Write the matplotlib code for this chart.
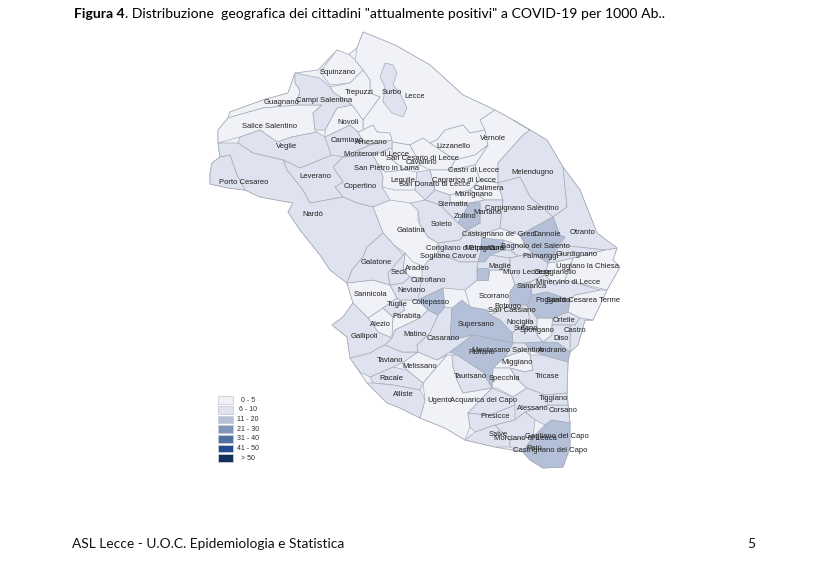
import matplotlib
matplotlib.use('Agg')
import matplotlib.pyplot as plt
from matplotlib.patches import Polygon, Rectangle

# classe di ogni comune: 0 = 0-5, 1 = 6-10, 2 = 11-20
comuni_0 = ['Lecce', 'Squinzano', 'Trepuzzi', 'Novoli', 'Guagnano', 'Salice Salentino', 'Arnesano',
            'Galatina', 'Lizzanello', 'Vernole', 'Cavallino', 'San Cesario di Lecce', 'San Pietro in Lama',
            'Lequile', 'Caprarica di Lecce', 'Castri di Lecce', 'Calimera', 'Martignano',
            "Castrignano de' Greci", 'Scorrano', 'Giuggianello', 'Uggiano la Chiesa', 'Santa Cesarea Terme',
            'Spongano', 'Miggiano', 'Specchia', 'Ugento', 'Melissano', 'Alezio', 'Sannicola', 'Aradeo', 'Parabita',
            'San Cassiano']
comuni_1 = ['Surbo', 'Campi Salentina', 'Veglie', 'Carmiano', 'Monteroni di Lecce', 'Copertino', 'Leverano',
            'Nardò', 'Porto Cesareo', 'Galatone', 'San Donato di Lecce', 'Sternatia', 'Soleto', 'Martano',
            'Melendugno', 'Carpignano Salentino', 'Otranto', "Corigliano d'Otranto", 'Cursi', 'Bagnolo del Salento',
            'Giurdignano', 'Maglie', 'Cutrofiano', 'Muro Leccese', 'Minervino di Lecce', 'Ortelle', 'Castro', 'Diso',
            'Nociglia', 'Surano', 'Tricase', 'Taurisano', 'Alessano', 'Corsano', 'Presicce', 'Salve',
            'Racale', 'Alliste', 'Taviano', 'Gallipoli', 'Seclì', 'Neviano', 'Tuglie', 'Matino', 'Casarano',
            'Montesano Salentino', 'Acquarica del Capo', 'Tiggiano', 'Morciano di Leuca', 'Patù']
comuni_2 = ['Zollino', 'Cannole', 'Melpignano', 'Sogliano Cavour', 'Sanarica', 'Poggiardo', 'Collepasso',
            'Supersano', 'Ruffano', 'Andrano', 'Gagliano del Capo']

classi_legenda = ['0 - 5', '6 - 10', '11 - 20', '21 - 30', '31 - 40', '41 - 50', '> 50']
colori_classi = ['#f0f2f8', '#dfe3ef', '#b4c0d7', '#7f95ba', '#51709f', '#1f4b8f', '#12315f']

titolo_a = 'Figura 4'
titolo_b = '. Distribuzione  geografica dei cittadini "attualmente positivi" a COVID-19 per 1000 Ab..'
piede = 'ASL Lecce - U.O.C. Epidemiologia e Statistica'

# contorno della provincia, in pixel del riferimento
provincia = [(357,48),(363,32),(395,45),(430,65),(463,95),(495,110),(513,120),(547,140),(563,167),(580,190),
             (597,233),(617,248),(613,260),(620,267),(607,290),(593,320),(585,320),(578,345),(570,352),(568,362),
             (567,393),(570,423),(570,448),(563,467),(543,468),(530,460),(523,452),(495,447),(465,440),(445,428),
             (420,418),(400,408),(387,403),(367,383),(350,358),(347,337),(332,325),(343,317),(353,303),(347,283),
             (330,270),(320,255),(300,230),(288,212),(293,203),(260,197),(245,190),(228,188),(210,184),(210,173),
             (212,163),(220,157),(218,143),(218,130),(228,118),(230,112),(263,100),(288,93),(295,73),(318,70),
             (337,50),(348,55)]

contorni = {
    'Lecce': [(357,48),(363,32),(395,45),(430,65),(463,95),(495,110),(480,120),(485,130),(470,133),(463,125),(445,130),
              (437,140),(430,143),(423,138),(410,145),(392,142),(390,133),(377,132),(373,125),(363,130),(363,120),
              (380,97),(370,93),(370,80),(363,70),(355,60)],
    'Surbo': [(385,63),(393,65),(397,73),(393,85),(400,93),(407,108),(403,117),(392,113),(383,102),(385,87),(380,77)],
    'Squinzano': [(320,72),(337,50),(350,55),(355,60),(363,70),(350,83),(330,85)],
    'Campi Salentina': [(295,73),(320,78),(330,87),(333,92),(352,105),(337,108),(325,130),(315,130),(313,113),(322,105),
                        (297,105),(300,90),(295,83)],
    'Trepuzzi': [(330,87),(350,83),(363,70),(370,80),(370,93),(380,97),(363,120),(352,105),(333,92)],
    'Novoli': [(337,108),(352,105),(363,120),(363,130),(358,132),(350,125),(325,137),(325,130)],
    'Guagnano': [(230,112),(263,100),(288,93),(295,73),(295,83),(300,90),(297,105),(263,108),(238,115),(228,118)],
    'Salice Salentino': [(218,130),(228,118),(238,115),(263,108),(297,105),(322,105),(313,113),(315,130),(317,132),(292,137),
                         (277,142),(260,130),(240,137),(218,143)],
    'Veglie': [(240,137),(260,130),(277,142),(292,137),(317,132),(325,137),(332,155),(300,168),(283,160),(253,153),(238,143)],
    'Carmiano': [(325,137),(350,125),(358,132),(363,142),(370,145),(343,157),(332,158)],
    'Arnesano': [(358,132),(363,130),(373,125),(377,132),(390,133),(392,140),(370,145),(363,142)],
    'Monteroni di Lecce': [(343,157),(370,145),(392,140),(392,148),(373,155)],
    'Copertino': [(343,157),(373,155),(377,163),(383,177),(382,187),(390,200),(373,207),(357,203),(343,197),(335,187),
                  (343,182),(333,167)],
    'Leverano': [(283,160),(300,168),(332,155),(343,157),(333,167),(343,182),(335,187),(343,197),(310,203),(303,190),(287,170)],
    'Nardò': [(218,143),(238,143),(253,153),(283,160),(287,170),(303,190),(310,203),(343,197),(357,203),(373,207),(383,233),
              (367,247),(363,257),(352,270),(347,283),(330,270),(320,255),(300,230),(288,212),(293,203),(260,197),(245,190),
              (237,175),(230,155),(220,157)],
    'Porto Cesareo': [(210,173),(212,163),(220,157),(230,155),(237,175),(245,190),(228,188),(210,184)],
    'Galatone': [(383,233),(367,247),(363,257),(352,270),(347,283),(373,280),(390,285),(388,273),(405,257),(394,245)],
    'Galatina': [(373,207),(390,200),(410,203),(418,210),(418,220),(420,225),(428,237),(438,243),(438,253),(427,262),
                 (422,270),(422,278),(410,277),(403,270),(405,253),(394,245),(383,233)],
    'Lizzanello': [(430,143),(437,140),(445,130),(463,125),(470,133),(485,130),(488,145),(475,155),(455,160),(440,150)],
    'Vernole': [(480,120),(495,110),(513,120),(530,130),(523,135),(498,163),(498,183),(480,180),(475,165),(488,145),(485,130)],
    'Cavallino': [(423,138),(430,143),(440,150),(455,160),(450,170),(430,170),(420,165),(410,145)],
    'San Cesario di Lecce': [(392,142),(410,145),(420,165),(405,170),(392,160),(392,148)],
    'San Pietro in Lama': [(373,155),(392,148),(392,160),(405,170),(385,172),(377,163)],
    'Lequile': [(377,163),(385,172),(405,170),(417,172),(415,190),(395,190),(382,187),(383,177)],
    'San Donato di Lecce': [(417,172),(430,170),(435,190),(425,200),(415,190)],
    'Caprarica di Lecce': [(430,170),(450,170),(475,165),(480,180),(470,190),(450,195),(435,190)],
    'Castri di Lecce': [(450,170),(455,160),(475,155),(488,145),(475,165)],
    'Calimera': [(470,190),(480,180),(498,183),(503,200),(485,200)],
    'Martignano': [(450,195),(470,190),(485,200),(470,203),(450,203)],
    'Sternatia': [(425,200),(435,190),(450,195),(450,203),(470,203),(458,223),(440,205)],
    'Zollino': [(470,203),(480,203),(480,223),(467,230),(458,223)],
    'Soleto': [(410,203),(425,200),(440,205),(458,223),(467,230),(460,240),(438,243),(428,237),(420,225),(418,210)],
    'Martano': [(470,203),(485,200),(503,200),(500,228),(480,235),(467,230),(480,223),(480,203)],
    'Melendugno': [(523,135),(530,130),(513,120),(547,140),(563,167),(567,207),(553,217),(530,197),(520,177),(498,183),(498,163)],
    'Carpignano Salentino': [(498,183),(520,177),(530,197),(553,217),(520,235),(500,228),(503,200)],
    'Cannole': [(553,217),(560,235),(565,237),(558,245),(548,263),(533,253),(527,248),(520,235)],
    'Otranto': [(563,167),(580,190),(597,233),(617,248),(605,250),(560,245),(565,237),(560,235),(553,217),(567,207)],
    "Castrignano de' Greci": [(480,235),(500,228),(520,235),(527,248),(503,240),(490,245)],
    "Corigliano d'Otranto": [(438,243),(460,240),(467,230),(480,235),(482,238),(480,255),(478,262),(460,262),(438,253)],
    'Melpignano': [(482,238),(503,240),(503,250),(490,255),(485,262),(478,262),(480,255)],
    'Cursi': [(503,250),(510,250),(518,256),(510,258),(490,255)],
    'Bagnolo del Salento': [(503,240),(527,248),(533,253),(518,256),(510,250),(503,250)],
    'Giurdignano': [(560,245),(605,250),(573,258),(555,262),(548,263)],
    'Maglie': [(478,262),(490,255),(510,258),(510,270),(490,270),(488,280),(477,280),(477,268)],
    'Sogliano Cavour': [(477,268),(488,268),(488,280),(477,280)],
    'Cutrofiano': [(438,253),(460,262),(478,262),(477,268),(477,280),(465,290),(443,288),(418,300),(410,280),(422,278),(422,270),(427,262)],
    'Scorrano': [(477,280),(488,280),(490,270),(510,270),(515,285),(510,292),(510,305),(490,315),(487,310),(470,307),(465,290)],
    'San Cassiano': [(490,315),(510,305),(512,318),(498,322)],
    'Muro Leccese': [(510,258),(533,253),(548,263),(545,275),(530,282),(515,285),(510,270)],
    'Giuggianello': [(548,263),(555,262),(573,258),(565,280),(555,285),(545,275)],
    'Uggiano la Chiesa': [(573,258),(605,250),(617,248),(613,260),(620,267),(607,290),(565,280)],
    'Sanarica': [(510,292),(515,285),(530,282),(532,295),(527,305),(510,305)],
    'Minervino di Lecce': [(530,282),(545,275),(555,285),(565,280),(600,290),(575,295),(570,300),(547,292),(532,295)],
    'Santa Cesarea Terme': [(575,295),(600,290),(607,290),(593,320),(585,320),(580,318),(568,312),(570,300)],
    'Poggiardo': [(532,295),(547,292),(570,300),(568,312),(553,318),(537,318),(527,305)],
    'Spongano': [(537,318),(553,318),(552,325),(552,335),(543,342),(537,335)],
    'Ortelle': [(553,318),(568,312),(580,318),(575,325),(552,325)],
    'Castro': [(575,325),(580,318),(593,320),(585,320),(578,345),(570,352),(570,325)],
    'Diso': [(552,325),(570,325),(570,352),(558,343),(543,342),(552,335)],
    'Nociglia': [(490,315),(510,305),(527,305),(530,320),(512,333),(500,320)],
    'Surano': [(527,305),(537,318),(537,335),(543,342),(525,343),(513,343),(512,333),(530,320)],
    'Andrano': [(525,343),(543,342),(558,343),(570,352),(568,362),(543,355),(530,350)],
    'Montesano Salentino': [(513,343),(525,343),(530,350),(530,355),(525,350),(505,357)],
    'Supersano': [(452,308),(462,300),(470,307),(487,310),(490,315),(500,320),(512,333),(513,343),(473,335),(450,340)],
    'Ruffano': [(450,352),(473,335),(513,343),(505,357),(493,368),(492,388),(483,372),(457,355)],
    'Miggiano': [(505,357),(525,350),(530,355),(533,370),(525,372),(510,368),(493,368)],
    'Tricase': [(530,355),(543,355),(568,362),(567,393),(545,395),(527,388),(518,380),(510,368),(525,372),(533,370)],
    'Specchia': [(493,368),(510,368),(518,380),(527,388),(513,397),(497,388),(492,388)],
    'Taurisano': [(452,355),(457,355),(483,372),(492,388),(480,390),(463,393),(457,380),(453,367)],
    'Ugento': [(423,383),(447,355),(452,355),(453,367),(457,380),(463,393),(480,390),(492,388),(468,413),(470,427),(465,440),
               (445,428),(420,418),(425,400)],
    'Acquarica del Capo': [(492,388),(513,397),(515,405),(490,415),(468,413)],
    'Presicce': [(468,413),(490,415),(515,405),(515,420),(495,425),(475,432),(470,427)],
    'Alessano': [(513,397),(527,388),(545,395),(548,405),(525,412),(515,420)],
    'Tiggiano': [(545,395),(567,393),(568,405),(548,405)],
    'Corsano': [(548,405),(568,405),(570,423),(552,420),(545,425),(535,420),(525,412)],
    'Salve': [(465,440),(475,432),(495,425),(500,430),(510,440),(510,447),(495,447)],
    'Morciano di Leuca': [(495,425),(515,420),(525,412),(535,420),(533,437),(510,440),(500,430)],
    'Patù': [(510,440),(533,437),(523,452),(510,447)],
    'Gagliano del Capo': [(545,425),(552,420),(570,423),(570,448),(563,467),(543,468),(530,460),(523,452),(533,437)],
    'Racale': [(370,377),(393,367),(407,370),(423,383),(420,390),(393,385),(373,383)],
    'Alliste': [(373,383),(393,385),(420,390),(425,400),(420,418),(400,408),(387,403),(367,383)],
    'Melissano': [(402,363),(418,352),(437,360),(447,355),(423,383),(407,370)],
    'Taviano': [(350,358),(370,353),(380,347),(385,345),(402,352),(418,352),(402,363),(393,367),(370,377),(360,372)],
    'Gallipoli': [(353,303),(368,318),(378,332),(392,338),(385,345),(380,347),(370,353),(350,358),(347,337),(332,325),(343,317)],
    'Alezio': [(368,318),(383,308),(393,317),(392,338),(378,332)],
    'Sannicola': [(347,283),(373,280),(390,285),(397,298),(383,308),(368,318),(353,303)],
    'Seclì': [(390,285),(388,273),(405,253),(403,270),(410,277),(403,283)],
    'Aradeo': [(405,253),(413,262),(425,267),(422,278),(410,277),(403,270)],
    'Neviano': [(390,285),(403,283),(410,277),(422,278),(418,300),(400,300),(397,298)],
    'Tuglie': [(397,298),(400,300),(405,310),(393,317),(383,308)],
    'Parabita': [(400,300),(418,300),(428,310),(420,318),(395,330),(392,338),(393,317),(405,310)],
    'Collepasso': [(418,300),(443,288),(445,307),(438,315),(428,310)],
    'Matino': [(392,338),(395,330),(420,318),(428,310),(438,315),(430,333),(417,345),(418,352),(402,352),(385,345)],
    'Casarano': [(438,315),(445,307),(452,308),(450,340),(473,335),(450,352),(437,360),(418,352),(417,345),(430,333)],
}

# centro di ogni etichetta, in pixel del riferimento
etichette = {
    'Squinzano': (338,72), 'Trepuzzi': (359,93), 'Surbo': (392,92), 'Lecce': (415,96), 'Guagnano': (282,103),
    'Campi Salentina': (324,101), 'Novoli': (348,122), 'Salice Salentino': (270,126), 'Carmiano': (347,141),
    'Arnesano': (371,142), 'Veglie': (287,147), 'Monteroni di Lecce': (377,155), 'San Cesario di Lecce': (422,159),
    'Cavallino': (421,163), 'San Pietro in Lama': (387,168), 'Lizzanello': (453,146), 'Vernole': (493,139),
    'Castri di Lecce': (474,170), 'Melendugno': (533,172), 'Caprarica di Lecce': (464,181),
    'San Donato di Lecce': (435,185), 'Leguile': (403,180), 'Calimera': (489,189), 'Martignano': (474,195),
    'Leverano': (315,177), 'Copertino': (360,187), 'Porto Cesareo': (244,183), 'Nardò': (313,214),
    'Sternatia': (453,204), 'Carpignano Salentino': (522,209), 'Martano': (487,213), 'Zollino': (465,217),
    'Soleto': (442,224), 'Galatina': (411,231), "Castrignano de' Greci": (499,234), 'Cannole': (547,235),
    'Otranto': (583,233), "Corigliano d'Otranto": (460,248), 'Melpignano': (484,249), 'Cursi': (498,248),
    'Bagnolo del Salento': (535,247), 'Sogliano Cavour': (448,256), 'Palmariggi': (541,256), 'Giurdignano': (577,254),
    'Maglie': (500,267), 'Muro Leccese': (527,272), 'Giuggianello': (555,272), 'Uggiano la Chiesa': (587,267),
    'Galatone': (376,263), 'Seclì': (399,272), 'Aradeo': (417,268), 'Sanarica': (532,286),
    'Minervino di Lecce': (568,283), 'Cutrofiano': (428,280), 'Neviano': (411,291), 'Sannicola': (371,295),
    'Scorrano': (494,296), 'Poggiardo': (553,301), 'Santa Cesarea Terme': (583,301), 'Tuglie': (397,304),
    'Collepasso': (431,303), 'Parabita': (407,316), 'Botrugo': (508,307), 'San Cassiano': (512,311),
    'Alezio': (380,325), 'Supersano': (476,324), 'Nociglia': (520,323), 'Surano': (526,328), 'Spongano': (537,331),
    'Ortelle': (564,321), 'Castro': (575,331), 'Diso': (561,339), 'Gallipoli': (364,337), 'Matino': (415,334),
    'Casarano': (443,338), 'Ruffano': (482,353), 'Montesano Salentino': (508,351), 'Andrano': (552,350),
    'Miggiano': (517,363), 'Taviano': (390,360), 'Melissano': (420,366), 'Racale': (391,378), 'Taurisano': (470,376),
    'Specchia': (504,379), 'Tricase': (547,376), 'Alliste': (403,395), 'Ugento': (440,401),
    'Acquarica del Capo': (484,400), 'Tiggiano': (553,399), 'Alessano': (533,409), 'Corsano': (563,411),
    'Presicce': (495,416), 'Salve': (498,435), 'Morciano di Leuca': (525,438), 'Patù': (534,448),
    'Gagliano del Capo': (557,437), 'Castrignano del Capo': (550,451),
}

fig = plt.figure(figsize=(8.26, 5.82), dpi=100)
ax = fig.add_axes([0, 0, 1, 1])
ax.set_xlim(0, 826)
ax.set_ylim(582, 0)
ax.axis('off')

bordo = '#a6acb8'
ax.add_patch(Polygon(provincia, closed=True, fc=colori_classi[0], ec=bordo, lw=0.6, zorder=1))

# prima la classe piu chiara, cosi le altre restano sopra
for classe, gruppo in enumerate([comuni_0, comuni_1, comuni_2]):
    for nome in gruppo:
        ax.add_patch(Polygon(contorni[nome], closed=True, fc=colori_classi[classe], ec=bordo, lw=0.5, zorder=2 + classe))

for nome, (x, y) in etichette.items():
    ax.text(x, y, nome, ha='center', va='center', fontsize=5.5, family='Liberation Sans', color='#222222', zorder=6)

for i, testo in enumerate(classi_legenda):
    y = 400 + i * 9.7
    ax.add_patch(Rectangle((217.5, y - 3.8), 15.5, 7.6, fc=colori_classi[i], ec='#c9ccd4', lw=0.6, zorder=6))
    ax.text(248, y, testo, ha='center', va='center', fontsize=5, family='Liberation Sans', color='#2b2b2b')

t = ax.text(74, 14, titolo_a, ha='left', va='center', fontsize=10.05, fontweight='bold', family='Lato', color='black')
fig.canvas.draw()
fine = t.get_window_extent().x1
ax.text(fine, 14, titolo_b, ha='left', va='center', fontsize=10.05, family='Lato', color='black')

ax.text(72, 544, piede, ha='left', va='center', fontsize=9.95, family='Lato', color='#111111')
ax.text(751, 544, '5', ha='center', va='center', fontsize=9.95, family='Lato', color='#111111')

fig.savefig('out.png', dpi=100)
